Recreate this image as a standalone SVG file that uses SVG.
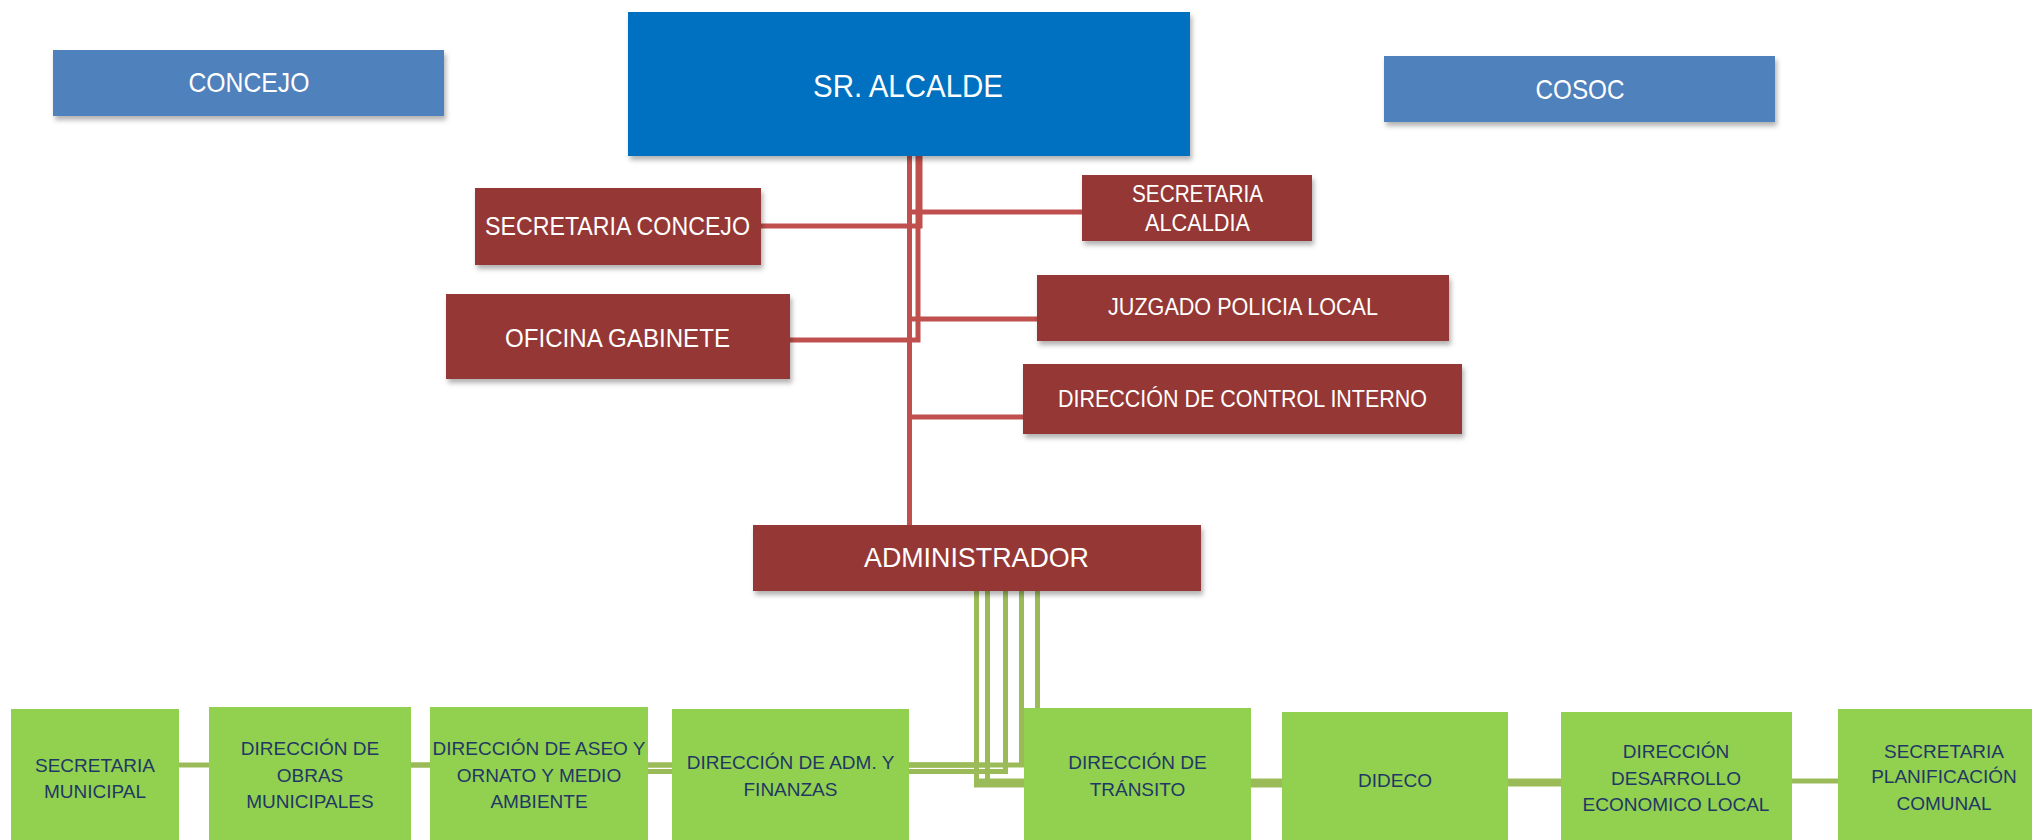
<svg xmlns="http://www.w3.org/2000/svg" width="2032" height="840" viewBox="0 0 2032 840">
<defs>
<filter id="sh" x="-5%" y="-10%" width="110%" height="130%">
<feDropShadow dx="2" dy="4" stdDeviation="2.5" flood-color="#000" flood-opacity="0.3"/>
</filter>
<style>
.blue{fill:#4f81bd;filter:url(#sh)}
.dblue{fill:#0070c0;filter:url(#sh)}
.red{fill:#953735;filter:url(#sh)}
.green{fill:#92d050}
.wt{fill:#ffffff;font-family:"Liberation Sans",Arial,sans-serif;text-anchor:middle}
.gt{fill:#1f3864;font-family:"Liberation Sans",Arial,sans-serif;font-size:19px;text-anchor:middle}
.rc{fill:none;stroke:#c0504d;stroke-width:5}
.gc{fill:none;stroke:#9bbb59;stroke-width:5}
</style>
</defs>
<rect width="2032" height="840" fill="#ffffff"/>
<g id="connectors">
<path class="rc" d="M909.5,156 V525"/>
<path class="rc" d="M920,156 V226 H761"/>
<path class="rc" d="M918,156 V340 H790"/>
<path class="rc" d="M909.5,156 V212 H1082"/>
<path class="rc" d="M909.5,156 V319 H1037"/>
<path class="rc" d="M909.5,156 V417 H1023"/>
<path class="gc" d="M976.5,591 V765 H178"/>
<path class="gc" d="M987.5,591 V765 H411"/>
<path class="gc" d="M1005.5,591 V771.5 H648"/>
<path class="gc" d="M1021.5,591 V765 H909"/>
<path class="gc" d="M1037.5,591 V708"/>
<path class="gc" d="M976.5,591 V785 H1282"/>
<path class="gc" d="M987.5,591 V784 H1561"/>
<path class="gc" d="M976.5,591 V781 H1838"/>
</g>
<g id="concejo"><rect class="blue" x="53" y="50" width="391" height="66"/><text class="wt" x="249" y="92" font-size="28" textLength="121" lengthAdjust="spacingAndGlyphs">CONCEJO</text></g>
<g id="alcalde"><rect class="dblue" x="628" y="12" width="562" height="144"/><text class="wt" x="908" y="97" font-size="32" textLength="190" lengthAdjust="spacingAndGlyphs">SR. ALCALDE</text></g>
<g id="cosoc"><rect class="blue" x="1384" y="56" width="391" height="66"/><text class="wt" x="1580" y="99" font-size="28" textLength="89" lengthAdjust="spacingAndGlyphs">COSOC</text></g>
<g id="secretaria-concejo"><rect class="red" x="475" y="188" width="286" height="77"/><text class="wt" x="617.5" y="235" font-size="25" textLength="265" lengthAdjust="spacingAndGlyphs">SECRETARIA CONCEJO</text></g>
<g id="oficina-gabinete"><rect class="red" x="446" y="294" width="344" height="85"/><text class="wt" x="617.5" y="347" font-size="26" textLength="225" lengthAdjust="spacingAndGlyphs">OFICINA GABINETE</text></g>
<g id="secretaria-alcaldia"><rect class="red" x="1082" y="175" width="230" height="66"/><text class="wt" x="1197.5" y="202" font-size="24" textLength="131" lengthAdjust="spacingAndGlyphs">SECRETARIA</text><text class="wt" x="1197.5" y="231" font-size="24" textLength="105" lengthAdjust="spacingAndGlyphs">ALCALDIA</text></g>
<g id="juzgado"><rect class="red" x="1037" y="275" width="412" height="66"/><text class="wt" x="1243" y="315" font-size="24" textLength="270" lengthAdjust="spacingAndGlyphs">JUZGADO POLICIA LOCAL</text></g>
<g id="control-interno"><rect class="red" x="1023" y="364" width="439" height="70"/><text class="wt" x="1242.5" y="407" font-size="24" textLength="369" lengthAdjust="spacingAndGlyphs">DIRECCIÓN DE CONTROL INTERNO</text></g>
<g id="administrador"><rect class="red" x="753" y="525" width="448" height="66"/><text class="wt" x="976.5" y="567" font-size="28" textLength="225" lengthAdjust="spacingAndGlyphs">ADMINISTRADOR</text></g>
<g id="secretaria-municipal"><rect class="green" x="11" y="709" width="168" height="131"/><text class="gt" x="95" y="772">SECRETARIA</text><text class="gt" x="95" y="798">MUNICIPAL</text></g>
<g id="obras"><rect class="green" x="209" y="707" width="202" height="133"/><text class="gt" x="310" y="755">DIRECCIÓN DE</text><text class="gt" x="310" y="782">OBRAS</text><text class="gt" x="310" y="808">MUNICIPALES</text></g>
<g id="aseo"><rect class="green" x="430" y="707" width="218" height="133"/><text class="gt" x="539" y="755">DIRECCIÓN DE ASEO Y</text><text class="gt" x="539" y="782">ORNATO Y MEDIO</text><text class="gt" x="539" y="808">AMBIENTE</text></g>
<g id="finanzas"><rect class="green" x="672" y="709" width="237" height="131"/><text class="gt" x="790.5" y="769">DIRECCIÓN DE ADM. Y</text><text class="gt" x="790.5" y="796">FINANZAS</text></g>
<g id="transito"><rect class="green" x="1024" y="708" width="227" height="132"/><text class="gt" x="1137.5" y="769">DIRECCIÓN DE</text><text class="gt" x="1137.5" y="796">TRÁNSITO</text></g>
<g id="dideco"><rect class="green" x="1282" y="712" width="226" height="128"/><text class="gt" x="1395" y="787">DIDECO</text></g>
<g id="desarrollo"><rect class="green" x="1561" y="712" width="231" height="128"/><text class="gt" x="1676" y="758">DIRECCIÓN</text><text class="gt" x="1676" y="785">DESARROLLO</text><text class="gt" x="1676" y="811">ECONOMICO LOCAL</text></g>
<g id="planificacion"><rect class="green" x="1838" y="709" width="194" height="131"/><text class="gt" x="1944" y="758">SECRETARIA</text><text class="gt" x="1944" y="783">PLANIFICACIÓN</text><text class="gt" x="1944" y="810">COMUNAL</text></g>
</svg>
